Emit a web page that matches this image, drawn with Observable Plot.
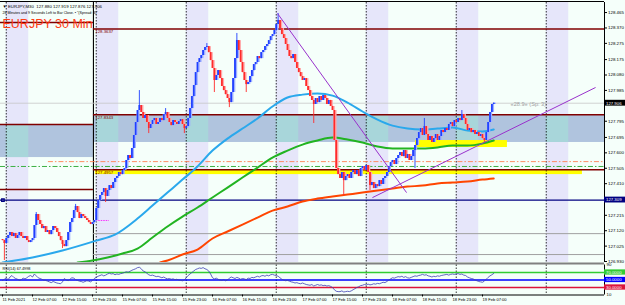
<!DOCTYPE html>
<html><head><meta charset="utf-8">
<script src="https://cdn.jsdelivr.net/npm/d3@7"></script>
<script src="https://cdn.jsdelivr.net/npm/@observablehq/plot@0.6"></script>
<style>
body{margin:0;background:#F5FFFA;}
#chart{width:625px;height:305px;overflow:hidden;}
#chart svg{display:block;}
</style></head><body><div id="chart"></div>
<script>
// ---------- DATA (bar index = 30-min bars starting 11 Feb 23:00) ----------
const firstOpen = 127.065;
const closes = [
127.059,127.041,127.072,127.090,127.109,127.084,127.103,127.072,127.090,127.109,
127.084,127.072,127.084,127.059,127.047,127.059,127.072,127.152,127.220,127.183,
127.158,127.133,127.146,127.109,127.121,127.096,127.121,127.146,127.133,127.109,
127.084,127.059,127.035,127.022,127.059,127.109,127.170,127.195,127.244,127.269,
127.232,127.195,127.220,127.207,127.195,127.183,127.170,127.158,127.170,127.183,
127.257,127.306,127.337,127.355,127.380,127.331,127.368,127.398,127.380,127.417,
127.442,127.454,127.479,127.466,127.491,127.503,127.553,127.583,127.565,127.627,
127.707,127.787,127.861,127.892,127.849,127.812,127.830,127.787,127.750,127.775,
127.799,127.812,127.775,127.787,127.812,127.799,127.836,127.849,127.812,127.787,
127.768,127.799,127.787,127.775,127.793,127.805,127.775,127.750,127.762,127.812,
127.873,127.947,128.015,128.095,128.157,128.181,128.200,128.231,128.249,128.255,
128.218,128.169,128.120,128.046,128.077,128.107,128.058,128.009,127.984,127.959,
127.935,127.910,127.972,128.058,128.181,128.292,128.231,128.157,128.095,128.046,
128.021,128.033,128.070,128.107,128.144,128.157,128.194,128.181,128.218,128.231,
128.255,128.268,128.292,128.317,128.329,128.354,128.391,128.416,128.366,128.329,
128.305,128.268,128.231,128.194,128.181,128.206,128.157,128.120,128.095,128.070,
128.046,128.058,128.009,127.984,127.947,127.923,127.898,127.935,127.910,127.947,
127.923,127.953,127.935,127.898,127.923,127.886,127.861,127.676,127.503,127.466,
127.442,127.479,127.429,127.454,127.466,127.442,127.479,127.491,127.466,127.491,
127.454,127.503,127.516,127.491,127.522,127.479,127.398,127.417,127.380,127.405,
127.392,127.429,127.405,127.442,127.454,127.479,127.516,127.540,127.553,127.528,
127.565,127.583,127.602,127.577,127.614,127.565,127.590,127.553,127.577,127.614,
127.645,127.688,127.725,127.750,127.707,127.762,127.713,127.676,127.701,127.664,
127.688,127.713,127.676,127.701,127.738,127.725,127.750,127.738,127.775,127.787,
127.762,127.799,127.787,127.812,127.799,127.836,127.812,127.775,127.738,127.750,
127.725,127.738,127.713,127.725,127.701,127.713,127.688,127.676,127.725,127.787,
127.849,127.898,127.906];
const wickHigh = [[18,127.232],[39,127.282],[73,127.984],[87,127.873],[109,128.274],[125,128.336],[147,128.459],[225,127.812],[245,127.861]];
const wickLow = [[1,126.936],[32,127.010],[55,127.294],[78,127.719],[97,127.719],[113,127.972],[121,127.879],[130,127.972],[166,127.781],[182,127.337],[196,127.368],[220,127.503],[257,127.664]];

const blueMA = [[0,126.924],[16,126.955],[32,126.998],[50,127.059],[60,127.096],[72,127.195],[80,127.275],[88,127.355],[96,127.435],[104,127.516],[112,127.614],[120,127.688],[128,127.750],[136,127.812],[144,127.886],[152,127.941],[160,127.959],[168,127.966],[176,127.953],[184,127.910],[192,127.855],[200,127.805],[208,127.768],[216,127.750],[224,127.744],[232,127.750],[240,127.756],[248,127.738],[256,127.732],[262,127.744]];
const greenMA = [[40,126.924],[48,126.936],[56,126.955],[64,126.979],[72,127.010],[80,127.078],[88,127.146],[96,127.207],[104,127.263],[112,127.325],[120,127.386],[128,127.448],[136,127.509],[144,127.571],[152,127.614],[160,127.651],[168,127.676],[176,127.694],[184,127.682],[192,127.664],[200,127.639],[208,127.627],[216,127.627],[224,127.627],[232,127.633],[240,127.645],[248,127.645],[256,127.657],[262,127.676]];
const redMA = [[84,126.924],[88,126.936],[96,126.973],[104,127.004],[112,127.072],[120,127.115],[128,127.158],[136,127.201],[144,127.244],[152,127.269],[160,127.300],[168,127.318],[176,127.331],[184,127.343],[192,127.355],[200,127.368],[208,127.380],[216,127.392],[224,127.398],[232,127.411],[240,127.417],[248,127.423],[256,127.435],[262,127.442]];

const rsi = [
49,52,55,51,58,62,57,54, 52,49,51,55,53,56,60,62, 58,66,61,56,54,52,50,49,
47,45,43,46,44,42,41,40, 45,54,50,48,52,56,55,51, 49,47,46,44,46,48,47,45,
49,54,57,60,62,64,61,63, 66,68,66,67,64,66,65,67, 68,70,72,71,73,76,78,80,
83,84,80,74,72,68,64,62, 63,61,59,60,58,56,58,55, 53,54,52,53,51,52,50,49,
48,50,56,62,66,70,74,78, 80,82,81,83,80,78,74,66, 56,53,55,52,50,49,51,48,
50,55,58,56,54,57,55,52, 54,53,51,55,54,57,56,58, 60,58,61,62,60,63,61,64,
65,63,62,60,56,52,50,48, 49,47,45,44,42,43,41,40, 42,40,38,37,36,38,34,36,
38,36,37,35,36,34,35,33, 30,24,20,19,19,21,18,19, 20,19,21,24,27,30,32,35,
36,38,37,39,37,38,40,39, 41,40,42,44,43,46,50,53, 56,55,57,59,58,60,57,59,
56,55,57,59,61,60,62,63, 65,63,64,61,60,58,60,59, 61,60,62,63,64,65,63,65,
66,65,66,67,65,66,63,62, 58,56,54,53,50,48,46,45, 44,47,52,57,61,64,67.5];

const daySeparators = [2,50,98,146,194,242,290];
const sessionBands = [[2,14],[50,62],[98,110],[146,158],[194,206],[242,254],[290,302]];
const sectionSplit = 48.5;
// levels: [x1, x2, price]
const maroonLevels = [[-1.07,48.5,128.403],[-1.07,48.5,127.775],[-1.07,48.5,127.374],[48.5,321.07,128.3637],[48.5,321.07,127.8343],[48.5,321.07,127.4957]];
const levelLabels = [[49.5,128.3637,"128.3637"],[49.5,127.8343,"127.8343"],[49.5,127.4957,"127.4957"]];
const zones = [[-1.07,48.5,127.571,127.775],[48.5,321.07,127.664,127.8343]];
const yellowZones = [[49.5,309.3,127.466,127.497],[220.3,269.3,127.633,127.676]];
const grayLevels = [[48.5,321.07,127.102],[48.5,321.07,126.973]];
const orangeDash = [[24.5,321.07,127.546]];
const greenDash = [[-1.07,321.07,127.516]];
const navyLevel = 127.309;
const bidPrice = 127.906;
const magentaLevel = [[50,57,127.183]];
const trendLines = [[146.7,128.459,215.5,127.355],[197.3,127.324,316.3,128.003]];

const priceTicks = [128.465,128.370,128.275,128.175,128.080,127.985,127.795,127.695,127.600,127.505,127.410,127.215,127.120,127.025,126.930];
const timeTicks = [0,16,32,48,64,80,96,112,128,144,160,176,192,208,224,240,256];
const timeLabels = ["11 Feb 2021","12 Feb 07:00","12 Feb 15:00","12 Feb 23:00","15 Feb 07:00","15 Feb 15:00","15 Feb 23:00","16 Feb 07:00","16 Feb 15:00","16 Feb 23:00","17 Feb 07:00","17 Feb 15:00","17 Feb 23:00","18 Feb 07:00","18 Feb 15:00","18 Feb 23:00","19 Feb 07:00"];
const rsiLevels = [[70,"#32CD32","70.0000"],[50,"#0000FF","50.0000"],[30,"#DC143C","30.0000"]];
const headerLine1 = "▼ EURJPY,M30  127.880 127.919 127.876 127.906";
const headerLine2 = "28 Minutes and 9 Seconds Left to Bar Close. • \"(Spread: 3)\"";
const bigTitle = "EURJPY 30 Min";
const spreadText = "«28.9» (Sp: 3)";
const rsiTitle = "RSI(14) 67.4998";

// ---------- BUILD ----------
const xDomain = [-1.0667, 321.07];
const yDomain = [126.924, 128.527];
const FONT = "Liberation Sans, Arial, sans-serif";
const bars = closes.map((c, i) => {
  const o = i === 0 ? firstOpen : closes[i - 1];
  return {i, o, c, h: Math.max(o, c), l: Math.min(o, c)};
});
wickHigh.forEach(([i, p]) => bars[i].h = p);
wickLow.forEach(([i, p]) => bars[i].l = p);
const candleColor = d => d.c >= d.o ? "#1f3fff" : "#ff2a2a";
const ghostColor = d => d.c >= d.o ? "#9fb0ff" : "#ffa8a8";

const overlaps = [];
zones.forEach(z => sessionBands.forEach(b => {
  const a = Math.max(z[0], b[0]), e = Math.min(z[1], b[1]);
  if (a < e) overlaps.push([a, e, z[2], z[3]]);
}));
const xmax = xDomain[1], boxW = 11.2;

const main = Plot.plot({
  width: 625, height: 264, marginTop: 2, marginBottom: 2, marginLeft: 0, marginRight: 21,
  x: {domain: xDomain, axis: null},
  y: {domain: yDomain, axis: null},
  style: {background: "#F5FFFA", fontFamily: FONT, fontSize: "4.3px", overflow: "visible"},
  marks: [
    Plot.rect(sessionBands, {x1: d => d[0], x2: d => d[1], y1: yDomain[0], y2: yDomain[1], fill: "#E6E6FA"}),
    Plot.rect(zones, {x1: d => d[0], x2: d => d[1], y1: d => d[2], y2: d => d[3], fill: "#B0C4DE"}),
    Plot.rect(overlaps, {x1: d => d[0], x2: d => d[1], y1: d => d[2], y2: d => d[3], fill: "#A8D6DA"}),
    Plot.rect(yellowZones, {x1: d => d[0], x2: d => d[1], y1: d => d[2], y2: d => d[3], fill: "#FFFF00"}),
    Plot.ruleX(daySeparators, {stroke: "#000", strokeWidth: 0.8, strokeDasharray: "1.5,1.5"}),
    Plot.ruleX([sectionSplit], {stroke: "#000", strokeWidth: 1.1}),
    Plot.ruleY(grayLevels, {x1: d => d[0], x2: d => d[1], y: d => d[2], stroke: "#A0A0A0", strokeWidth: 1}),
    Plot.ruleY([bidPrice], {stroke: "#C8C8C8", strokeWidth: 0.8}),
    Plot.ruleY(orangeDash, {x1: d => d[0], x2: d => d[1], y: d => d[2], stroke: "#FF7F50", strokeWidth: 0.9, strokeDasharray: "5,2,1.5,2"}),
    Plot.ruleY(greenDash, {x1: d => d[0], x2: d => d[1], y: d => d[2], stroke: "#3CB043", strokeWidth: 1, strokeDasharray: "5,2,1.5,2"}),
    Plot.ruleY(magentaLevel, {x1: d => d[0], x2: d => d[1], y: d => d[2], stroke: "#FF00FF", strokeWidth: 0.8, strokeDasharray: "1.5,1"}),
    Plot.ruleY(maroonLevels, {x1: d => d[0], x2: d => d[1], y: d => d[2], stroke: "#800000", strokeWidth: 1.5}),
    Plot.ruleY([navyLevel], {stroke: "#000080", strokeWidth: 1.2}),
    Plot.dot([navyLevel], {x: xDomain[0] + 1.3, y: d => d, r: 1.3, stroke: "#000080", fill: "#F5FFFA", symbol: "square"}),
    Plot.line(redMA, {x: d => d[0], y: d => d[1], stroke: "#FF4500", strokeWidth: 2, curve: "monotone-x", clip: true}),
    Plot.line(greenMA, {x: d => d[0], y: d => d[1], stroke: "#22B422", strokeWidth: 2, curve: "monotone-x", clip: true}),
    Plot.line(blueMA, {x: d => d[0], y: d => d[1], stroke: "#2AA8EC", strokeWidth: 2, curve: "monotone-x", clip: true}),
    Plot.ruleX(bars, {x: "i", y1: "o", y2: "c", stroke: ghostColor, strokeWidth: 3.2, dx: 0.6}),
    Plot.ruleX(bars, {x: "i", y1: "l", y2: "h", stroke: candleColor, strokeWidth: 0.9}),
    Plot.ruleX(bars, {x: "i", y1: "o", y2: "c", stroke: candleColor, strokeWidth: 1.6}),
    Plot.link(trendLines, {x1: d => d[0], y1: d => d[1], x2: d => d[2], y2: d => d[3], stroke: "#9932CC", strokeWidth: 1}),
    Plot.text(levelLabels, {x: d => d[0], y: d => d[1], text: d => d[2], fill: "#800000", textAnchor: "start", lineAnchor: "top", dy: 1.2, fontSize: 4.3}),
    Plot.text([spreadText], {x: 271, y: bidPrice, text: d => d, fill: "#A0A0A0", textAnchor: "start", dy: 1, fontSize: 5.6}),
    // header
    Plot.text([headerLine1], {frameAnchor: "top-left", dx: 2, dy: 2, text: d => d, fill: "#000", fontSize: 4.3, textAnchor: "start", lineAnchor: "top"}),
    Plot.text([headerLine2], {frameAnchor: "top-left", dx: 2, dy: 8.5, text: d => d, fill: "#000", fontSize: 3.6, textAnchor: "start", lineAnchor: "top"}),
    Plot.text([bigTitle], {frameAnchor: "top-left", dx: 2, dy: 16.5, text: d => d, fill: "#FF3C14", fontSize: 12.5, textAnchor: "start", lineAnchor: "top"}),
    // frame pieces
    Plot.ruleY([yDomain[1]], {stroke: "#000", strokeWidth: 1, dy: -1}),
    Plot.ruleY([yDomain[0]], {stroke: "#808080", strokeWidth: 2, dy: 1}),
    Plot.ruleX([xmax], {stroke: "#000", strokeWidth: 1}),
    // right price axis
    Plot.axisY({anchor: "right", ticks: priceTicks, tickFormat: d => d.toFixed(3), tickSize: 2, tickPadding: 1.5, label: null, fontSize: 4.4}),
    Plot.rect([[bidPrice, "#000000"], [navyLevel, "#000080"]], {x1: xmax, x2: xmax + boxW, y1: d => d[0] - 0.018, y2: d => d[0] + 0.018, fill: d => d[1]}),
    Plot.text([bidPrice, navyLevel], {x: xmax + 0.8, y: d => d, text: d => d.toFixed(3), fill: "#fff", textAnchor: "start", fontSize: 4.3})
  ]
});

const rsiPlot = Plot.plot({
  width: 625, height: 41, marginTop: 0.5, marginBottom: 10.5, marginLeft: 0, marginRight: 21,
  x: {domain: xDomain, axis: null},
  y: {domain: [10, 90], axis: null},
  style: {background: "#F5FFFA", fontFamily: FONT, fontSize: "4.3px", overflow: "visible"},
  marks: [
    Plot.ruleX(daySeparators, {stroke: "#000", strokeWidth: 0.8, strokeDasharray: "1.5,1.5"}),
    Plot.ruleY(rsiLevels, {y: d => d[0], stroke: d => d[1], strokeWidth: 1.3}),
    Plot.line(rsi, {x: (d, i) => i, y: d => d, stroke: "#3C3CB4", strokeWidth: 0.8}),
    Plot.text([rsiTitle], {frameAnchor: "top-left", dx: 2, dy: 2, text: d => d, fill: "#000", fontSize: 3.8, textAnchor: "start", lineAnchor: "top"}),
    Plot.ruleY([10], {stroke: "#000", strokeWidth: 1}),
    Plot.ruleX([xmax], {stroke: "#000", strokeWidth: 1}),
    Plot.axisX({anchor: "bottom", ticks: timeTicks, tickFormat: d => timeLabels[timeTicks.indexOf(d)], tickSize: 2, tickPadding: 1.5, textAnchor: "start", label: null, fontSize: 4.1}),
    Plot.text([[90, "90"], [10, "10"]], {x: xmax, y: d => d[0], text: d => d[1], dx: 2, textAnchor: "start", fontSize: 4.3, fill: "#000"}),
    Plot.rect(rsiLevels, {x1: xmax, x2: xmax + boxW, y1: d => d[0] - 7, y2: d => d[0] + 7, fill: d => d[1]}),
    Plot.text(rsiLevels, {x: xmax + 0.8, y: d => d[0], text: d => d[2], fill: "#fff", textAnchor: "start", fontSize: 4.3})
  ]
});

const host = document.getElementById("chart");
host.appendChild(main);
host.appendChild(rsiPlot);
</script>
</body></html>
